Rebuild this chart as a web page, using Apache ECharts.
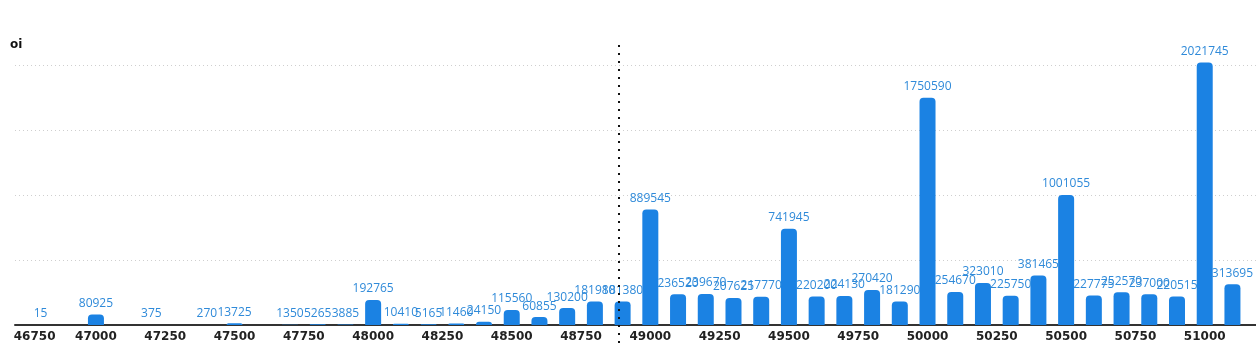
<!DOCTYPE html>
<html>
<head>
<meta charset="utf-8">
<script src="https://cdn.jsdelivr.net/npm/echarts@6/dist/echarts.min.js"></script>
<style>
  html, body { margin: 0; padding: 0; background: #fff; }
  #chart { width: 1256px; height: 350px; }
</style>
</head>
<body>
<div id="chart"></div>
<script>
// ---- data ----
const strikes = [46800, 47000, 47200, 47400, 47500, 47700, 47800, 47900, 48000, 48100,
  48200, 48300, 48400, 48500, 48600, 48700, 48800, 48900, 49000, 49100,
  49200, 49300, 49400, 49500, 49600, 49700, 49800, 49900, 50000, 50100,
  50200, 50300, 50400, 50500, 50600, 50700, 50800, 50900, 51000, 51100];
const oiValues = [15, 80925, 375, 270, 13725, 1350, 5265, 3885, 192765, 10410,
  5165, 11460, 24150, 115560, 60855, 130200, 181980, 181380, 889545, 236520,
  239670, 207625, 217770, 741945, 220200, 224130, 270420, 181290, 1750590, 254670,
  323010, 225750, 381465, 1001055, 227775, 252570, 237000, 220515, 2021745, 313695];
const xTickLabels = [46750, 47000, 47250, 47500, 47750, 48000, 48250, 48500, 48750,
  49000, 49250, 49500, 49750, 50000, 50250, 50500, 50750, 51000];
const spotPrice = 48887;
const xMin = 46708, xMax = 51185;
const yMax = 2142000, yStep = 500000;

const barData = strikes.map((s, i) => [s, oiValues[i]]);

const chart = echarts.init(document.getElementById('chart'));
chart.setOption({
  animation: false,
  backgroundColor: '#ffffff',
  grid: [
    { left: 15, right: 0, top: 47, bottom: 25, containLabel: false },
    { left: 15, right: 0, top: 45, bottom: 7, containLabel: false }
  ],
  xAxis: [
    {
      type: 'value', gridIndex: 0, min: xMin, max: xMax,
      axisLine: { show: true, lineStyle: { color: '#333', width: 2 } },
      axisTick: { show: false },
      splitLine: { show: false },
      axisLabel: {
        customValues: xTickLabels,
        margin: 6,
        color: '#222',
        fontFamily: 'DejaVu Sans',
        fontWeight: 'bold',
        fontSize: 12,
        formatter: function (v) {
          return v === xTickLabels[0] ? '{first|' + v + '}' : String(v);
        },
        rich: {
          first: { padding: [0, 0, 0, 16], color: '#222', fontFamily: 'DejaVu Sans', fontWeight: 'bold', fontSize: 12 }
        }
      }
    },
    { type: 'value', gridIndex: 1, min: xMin, max: xMax, show: false }
  ],
  yAxis: [
    {
      type: 'value', gridIndex: 0, min: 0, max: yMax, interval: yStep,
      name: 'oi',
      nameLocation: 'end',
      nameGap: -4,
      nameTextStyle: { color: '#111', fontWeight: 'bold', fontSize: 12, fontFamily: 'DejaVu Sans', align: 'left', padding: [0, 0, 0, -5] },
      axisLine: { show: false },
      axisTick: { show: false },
      axisLabel: { show: false },
      splitLine: {
        show: true,
        showMaxLine: false,
        lineStyle: { color: ['#cfcfcf', '#cfcfcf', '#cfcfcf', '#cfcfcf', '#cfcfcf', 'rgba(0,0,0,0)'], type: [1, 3], width: 1 }
      }
    },
    { type: 'value', gridIndex: 1, min: 0, max: 1, show: false }
  ],
  series: [
    {
      type: 'bar',
      xAxisIndex: 0, yAxisIndex: 0,
      data: barData,
      barWidth: 16,
      itemStyle: { color: '#1b82e3', borderRadius: [4, 4, 0, 0] },
      label: {
        show: true, position: 'top', distance: 5,
        color: '#2f8ad9', fontSize: 12, fontFamily: 'Open Sans',
        formatter: p => String(p.value[1])
      },
      z: 2
    },
    {
      type: 'line',
      xAxisIndex: 1, yAxisIndex: 1,
      data: [[spotPrice, 0], [spotPrice, 1]],
      symbol: 'none',
      silent: true,
      lineStyle: { color: '#111', width: 2, type: [2, 6] },
      z: 5
    }
  ]
});
</script>
</body>
</html>
